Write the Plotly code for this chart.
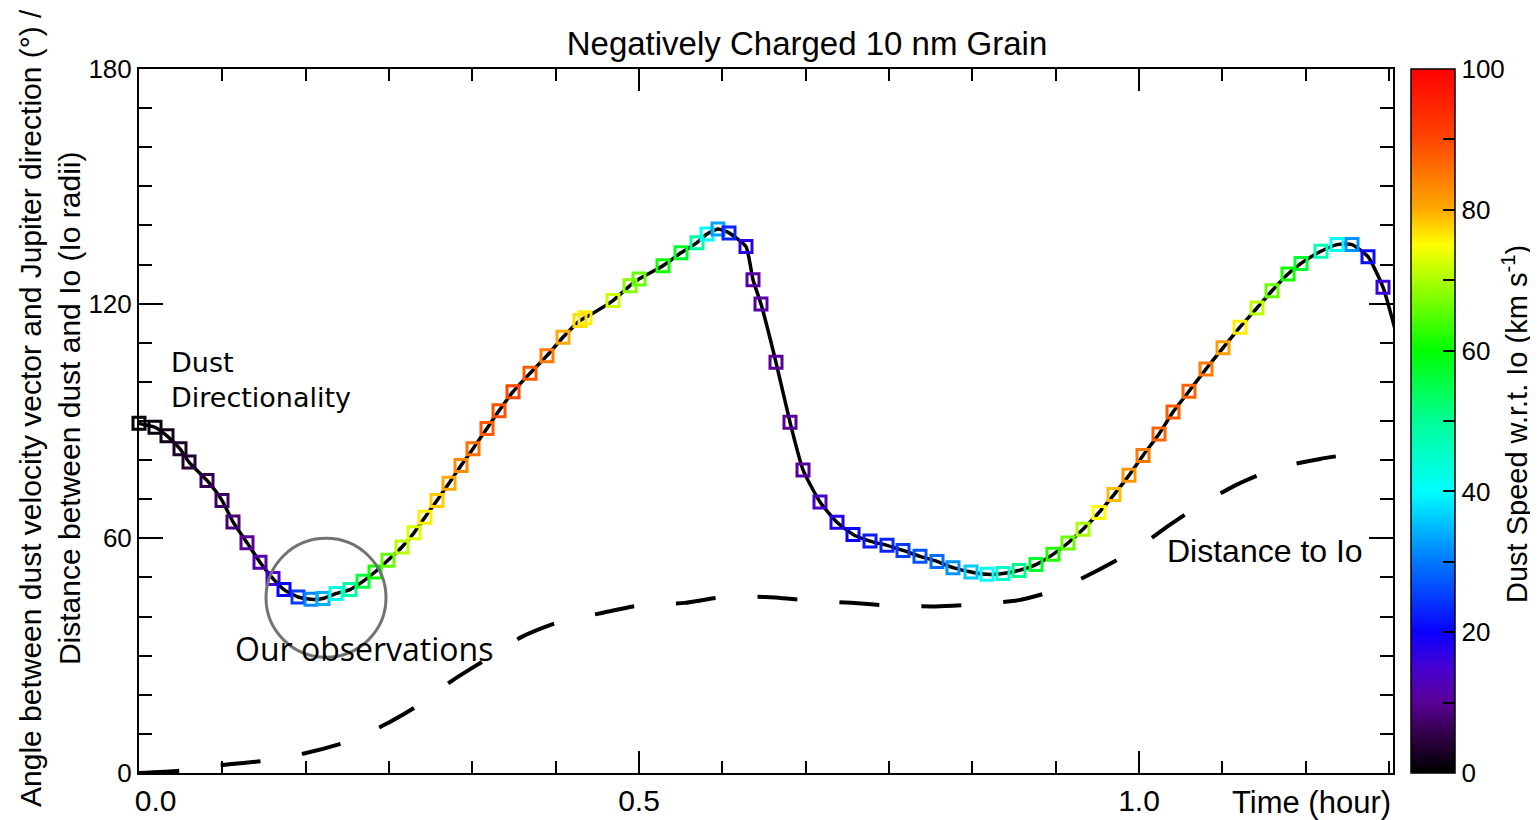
import plotly.graph_objects as go

# ---------------- data ----------------
# Dust directionality: time (hour), angle (deg), dust speed w.r.t. Io (km/s)
time_h = [0.000, 0.016, 0.028, 0.041, 0.050, 0.068, 0.083, 0.094, 0.108, 0.121,
          0.134, 0.145, 0.159, 0.172, 0.184, 0.197, 0.211, 0.224, 0.236, 0.249,
          0.263, 0.275, 0.286, 0.298, 0.310, 0.322, 0.334, 0.348, 0.360, 0.374,
          0.391, 0.408, 0.424, 0.441, 0.446, 0.474, 0.491, 0.500, 0.524, 0.542,
          0.558, 0.568, 0.579, 0.590, 0.607, 0.614, 0.622, 0.637, 0.651, 0.664,
          0.681, 0.698, 0.714, 0.731, 0.748, 0.764, 0.781, 0.798, 0.814, 0.832,
          0.848, 0.864, 0.880, 0.897, 0.914, 0.929, 0.944, 0.960, 0.975, 0.990,
          1.004, 1.020, 1.034, 1.050, 1.067, 1.084, 1.101, 1.118, 1.133, 1.149,
          1.162, 1.182, 1.198, 1.213, 1.229, 1.244, 1.270]
angle_deg = [89.4, 88.4, 86.2, 82.9, 79.5, 74.8, 69.7, 64.2, 58.9, 53.9,
             49.7, 46.9, 45.0, 44.4, 44.6, 45.9, 46.9, 49.0, 51.4, 54.4,
             57.8, 61.4, 65.4, 69.7, 74.1, 78.6, 82.9, 88.1, 92.6, 97.5,
             102.2, 106.7, 111.4, 115.7, 116.4, 120.8, 124.6, 126.3, 129.7, 133.0,
             135.6, 137.8, 139.1, 138.1, 134.6, 126.1, 119.9, 105.0, 89.7, 77.5,
             69.3, 64.1, 61.0, 59.3, 58.2, 56.9, 55.4, 54.1, 52.5, 51.4,
             50.8, 51.0, 51.8, 53.3, 55.9, 58.8, 62.3, 66.6, 71.2, 76.1,
             81.2, 86.7, 92.3, 97.6, 103.3, 108.7, 114.0, 118.9, 123.3, 127.6,
             130.3, 133.4, 135.1, 135.1, 132.0, 124.2, 99.8]
speed_kms = [0, 1, 2, 3, 4, 6, 7, 8, 10, 12,
             15, 20, 25, 31, 34, 42, 49, 56, 61, 66,
             71, 73, 76, 78, 80, 83, 86, 88, 89, 90,
             88, 85, 80, 77, 76, 72, 68, 66, 61, 57,
             49, 40, 33, 23, 17, 11, 11, 10, 10, 11,
             14, 18, 20, 22, 23, 25, 27, 29, 32, 36,
             40, 45, 51, 57, 62, 66, 70, 75, 79, 82,
             85, 87, 88, 87, 85, 81, 76, 71, 66, 61,
             57, 47, 40, 32, 21, 16, 12]

# Distance between dust and Io (Io radii)
dist_time = [0.000, 0.041, 0.082, 0.124, 0.165, 0.2045, 0.243, 0.278, 0.3136, 0.3467,
             0.3828, 0.420, 0.4628, 0.502, 0.5457, 0.584, 0.627, 0.667, 0.712, 0.752,
             0.7966, 0.836, 0.880, 0.9185, 0.958, 0.995, 1.030, 1.063, 1.100, 1.138,
             1.181, 1.221]
dist_io = [0.0, 0.6, 2.0, 3.1, 5.0, 7.7, 12.0, 17.1, 23.7, 29.0,
           34.8, 38.6, 40.9, 42.9, 43.5, 45.0, 45.0, 44.2, 43.5, 42.8,
           42.6, 43.1, 44.2, 46.9, 51.7, 56.9, 63.3, 68.9, 74.0, 78.0,
           80.3, 81.9]

x_ticks = [0.0, 0.5, 1.0]
x_labels = ["\u00a0\u00a0\u00a0\u00a00.0", "0.5", "1.0"]
y_ticks = [0, 60, 120, 180]
cbar_ticks = [0, 10, 20, 30, 40, 50, 60, 70, 80, 90, 100]
cbar_labels = ["0", " ", "20", " ", "40", " ", "60", " ", "80", " ", "100"]

rainbow = [
    [0.00, "rgb(0,0,0)"], [0.05, "rgb(45,0,65)"], [0.10, "rgb(90,0,150)"],
    [0.15, "rgb(70,0,210)"], [0.20, "rgb(10,0,255)"], [0.30, "rgb(0,120,255)"],
    [0.40, "rgb(0,255,255)"], [0.50, "rgb(0,255,150)"], [0.60, "rgb(0,255,0)"],
    [0.70, "rgb(170,255,0)"], [0.75, "rgb(255,255,0)"], [0.80, "rgb(255,170,0)"],
    [0.90, "rgb(255,70,0)"], [1.00, "rgb(255,0,0)"],
]

FONT = "Liberation Sans, Arial, sans-serif"

# page offset (browser body margin) compensated in figure size/margins
FIG_W, FIG_H = 1530, 812
OFF = 8

fig = go.Figure()

# dashed distance curve
fig.add_trace(go.Scatter(
    x=dist_time, y=dist_io, mode="lines",
    line=dict(color="black", width=4, dash="40px,42px", shape="spline", smoothing=0.6),
    showlegend=False, hoverinfo="skip"))

# solid angle curve
fig.add_trace(go.Scatter(
    x=time_h, y=angle_deg, mode="lines",
    line=dict(color="black", width=3.5, shape="spline", smoothing=0.5),
    showlegend=False, hoverinfo="skip"))

# colored open-square markers
fig.add_trace(go.Scatter(
    x=time_h[:-1], y=angle_deg[:-1], mode="markers", cliponaxis=False,
    marker=dict(symbol="square-open", size=12, color=speed_kms[:-1],
                colorscale=rainbow, cmin=0, cmax=100,
                line=dict(width=3),
                showscale=True,
                colorbar=dict(
                    x=(1411 - 139) / 1254, xanchor="left", xpad=0,
                    y=0.5, yanchor="middle", ypad=0, len=1, lenmode="fraction",
                    thickness=44, thicknessmode="pixels",
                    outlinecolor="black", outlinewidth=1.5,
                    tickmode="array", tickvals=cbar_ticks, ticktext=cbar_labels,
                    ticks="inside", ticklen=12, tickcolor="black", tickwidth=1.5,
                    tickfont=dict(family=FONT, size=26, color="black"),
                )),
    showlegend=False, hoverinfo="skip"))

axis_common = dict(
    showline=True, linecolor="black", linewidth=2, mirror="ticks",
    ticks="inside", tickcolor="black", tickwidth=1.5,
    showgrid=False, zeroline=False,
)

fig.update_xaxes(
    **axis_common, range=[0, 1.254], tickmode="array", tickvals=x_ticks,
    ticktext=x_labels, ticklen=22, ticklabelstandoff=0,
    tickfont=dict(family=FONT, size=30, color="black"),
    minor=dict(dtick=1 / 12, tick0=0, ticklen=12, ticks="inside",
               tickcolor="black", tickwidth=1.5),
)
fig.update_yaxes(
    **axis_common, range=[0, 180], tickmode="array", tickvals=y_ticks,
    ticklen=24,
    tickfont=dict(family=FONT, size=26, color="black"),
    minor=dict(dtick=10, tick0=0, ticklen=13, ticks="inside",
               tickcolor="black", tickwidth=1.5),
)

# observation circle
fig.add_shape(type="circle", xref="x", yref="y",
              x0=0.127, x1=0.247, y0=29.6, y1=60.0,
              line=dict(color="rgb(115,115,115)", width=3))

def px_x(px):
    return (px - 139) / 1254

def px_y(py):
    return (773 - py) / 704

annotations = [
    dict(text="Dust<br>Directionality", x=px_x(169), y=px_y(380), xanchor="left",
         yanchor="middle", align="left",
         font=dict(family="DejaVu Sans", size=27, color="black")),
    dict(text="Our observations", x=px_x(233), y=px_y(648), xanchor="left",
         yanchor="middle", font=dict(family="Open Sans", size=32, color="black")),
    dict(text="Distance to Io", x=px_x(1165), y=px_y(551), xanchor="left",
         yanchor="middle", font=dict(family=FONT, size=32, color="black")),
    dict(text="Time (hour)", x=px_x(1393), y=px_y(802), xanchor="right",
         yanchor="middle", font=dict(family=FONT, size=31, color="black")),
    dict(text="Angle between dust velocity vector and Jupiter direction (°) /<br>"
              "Distance between dust and Io (Io radii)",
         x=px_x(50), y=px_y(408), xanchor="center", yanchor="middle",
         textangle=-90, font=dict(family=FONT, size=30, color="black")),
    dict(text="Dust Speed w.r.t. Io (km s<sup>-1</sup>)",
         x=px_x(1515), y=px_y(424), xanchor="center", yanchor="middle",
         textangle=-90, font=dict(family=FONT, size=29, color="black")),
]
for a in annotations:
    a.update(xref="paper", yref="paper", showarrow=False)

fig.update_layout(
    width=FIG_W, height=FIG_H,
    margin=dict(l=139 - OFF, r=FIG_W - (1393 - OFF), t=69 - OFF,
                b=FIG_H - (773 - OFF), autoexpand=False),
    paper_bgcolor="white", plot_bgcolor="white",
    title=dict(text="Negatively Charged 10 nm Grain", x=(807 - OFF) / FIG_W,
               xanchor="center", xref="container",
               y=1 - (43 - OFF) / FIG_H, yanchor="middle",
               font=dict(family=FONT, size=33, color="black")),
    annotations=annotations,
    showlegend=False,
)

fig.write_html("out.html")
